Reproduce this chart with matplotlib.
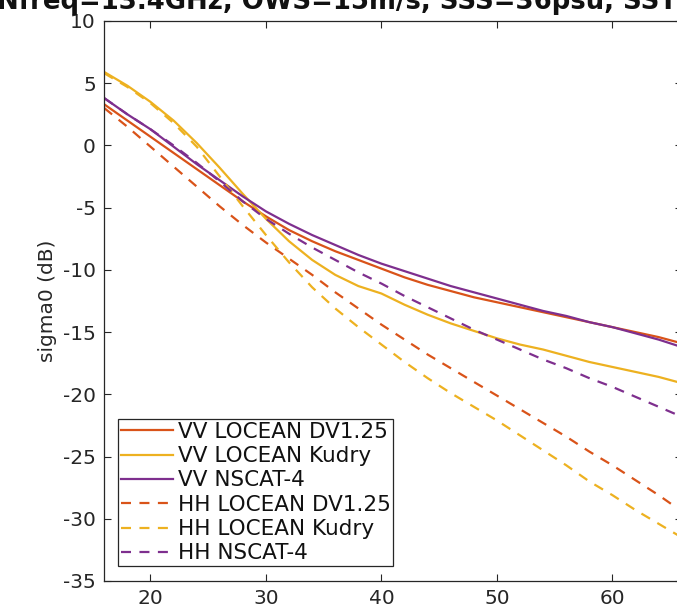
import matplotlib
matplotlib.use("Agg")
import matplotlib.pyplot as plt

# Incidence angle (deg)
incidence = [16, 18, 20, 22, 24, 26, 28, 30, 32, 34, 36, 38, 40, 42, 44, 46,
             48, 50, 52, 54, 56, 58, 60, 62, 64, 66]

# sigma0 (dB) for each model / polarisation
vv_locean_dv = [3.3, 2.0, 0.7, -0.6, -1.9, -3.2, -4.5, -5.7, -6.8, -7.7, -8.5, -9.2, -9.9,
                -10.6, -11.2, -11.7, -12.2, -12.6, -13.0, -13.4, -13.8, -14.2, -14.6,
                -15.0, -15.4, -15.9]
vv_locean_kudry = [5.9, 4.8, 3.5, 2.0, 0.2, -1.8, -3.9, -5.9, -7.7, -9.2, -10.4, -11.3,
                   -11.9, -12.8, -13.6, -14.3, -14.9, -15.5, -16.0, -16.4, -16.9, -17.4,
                   -17.8, -18.2, -18.6, -19.1]
vv_nscat4 = [3.8, 2.5, 1.3, -0.1, -1.5, -2.8, -4.1, -5.3, -6.3, -7.2, -8.0, -8.8, -9.5,
             -10.1, -10.7, -11.3, -11.8, -12.3, -12.8, -13.3, -13.7, -14.2, -14.6, -15.1,
             -15.6, -16.2]
hh_locean_dv = [3.0, 1.5, -0.1, -1.7, -3.3, -4.9, -6.4, -7.8, -9.1, -10.4, -11.8, -13.1,
                -14.4, -15.6, -16.8, -17.9, -19.0, -20.1, -21.2, -22.3, -23.4, -24.6,
                -25.7, -26.9, -28.1, -29.4]
hh_locean_kudry = [5.8, 4.7, 3.4, 1.8, -0.1, -2.5, -4.9, -7.2, -9.4, -11.4, -13.1, -14.6,
                   -16.0, -17.4, -18.7, -19.9, -21.0, -22.1, -23.3, -24.5, -25.7, -27.0,
                   -28.1, -29.3, -30.4, -31.5]
hh_nscat4 = [3.8, 2.5, 1.3, 0.0, -1.4, -2.9, -4.5, -5.9, -7.1, -8.2, -9.2, -10.2, -11.1,
             -12.1, -13.0, -13.9, -14.8, -15.6, -16.4, -17.2, -17.9, -18.7, -19.4, -20.2,
             -21.0, -21.8]

labels = ["VV LOCEAN DV1.25", "VV LOCEAN Kudry", "VV NSCAT-4",
          "HH LOCEAN DV1.25", "HH LOCEAN Kudry", "HH NSCAT-4"]
x_ticks = [20, 30, 40, 50, 60]
y_ticks = [-35, -30, -25, -20, -15, -10, -5, 0, 5, 10]

c_orange = "#D95319"
c_yellow = "#EDB120"
c_purple = "#7E2F8E"
axis_col = "#262626"

plt.rcParams["font.family"] = ["DejaVu Sans"]
plt.rcParams["axes.unicode_minus"] = False

W, H = 677, 616
fig = plt.figure(figsize=(W / 100, H / 100), dpi=100)
left, right, top, bottom = 104.3, 681.7, 21.0, 581.0
ax = fig.add_axes([left / W, (H - bottom) / H, (right - left) / W, (bottom - top) / H])

dash = (0, (4.5, 3.8))
series = [
    (vv_locean_dv, c_orange, "-"),
    (vv_locean_kudry, c_yellow, "-"),
    (vv_nscat4, c_purple, "-"),
    (hh_locean_dv, c_orange, dash),
    (hh_locean_kudry, c_yellow, dash),
    (hh_nscat4, c_purple, dash),
]
for (vals, col, ls), lab in zip(series, labels):
    ax.plot(incidence, vals, color=col, linestyle=ls, linewidth=1.6, label=lab)

ax.set_xlim(16, 66)
ax.set_ylim(-35, 10)
ax.set_xticks(x_ticks)
ax.set_yticks(y_ticks)
ax.tick_params(direction="in", length=5, width=0.8, top=True, right=True,
               labelsize=14.5, colors=axis_col, pad=6)
for s in ax.spines.values():
    s.set_color(axis_col)
    s.set_linewidth(0.9)
ax.set_ylabel("sigma0 (dB)", fontsize=14.5, color=axis_col, labelpad=4)

leg = ax.legend(loc="lower left",
                bbox_to_anchor=((118 - left) / (right - left), (bottom - 566) / (bottom - top)),
                borderaxespad=0, fontsize=15.5, handlelength=2.45, handletextpad=0.2,
                labelspacing=0.2, borderpad=0.12, frameon=True, fancybox=False,
                framealpha=1, edgecolor="#262626")
leg.get_frame().set_linewidth(0.9)
for t in leg.get_texts():
    t.set_color("#111111")

fig.text(-3 / W, (H - 9) / H, "Nfreq=13.4GHz, OWS=15m/s, SSS=36psu, SST=20degC",
         fontsize=18.7, fontweight="bold", ha="left", va="baseline", color="#111111")

fig.savefig("out.png", dpi=100)
